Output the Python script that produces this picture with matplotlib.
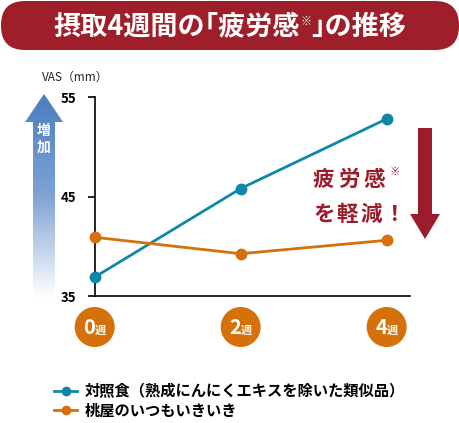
import numpy as np
import matplotlib
matplotlib.use('Agg')
import matplotlib.pyplot as plt
from matplotlib import patches
from matplotlib.colors import LinearSegmentedColormap

plt.rcParams['font.family'] = ['Noto Sans CJK JP', 'DejaVu Sans']

# data (VAS, mm)
weeks = [0, 2, 4]
week_labels = ['0', '2', '4']
control = [36.9, 45.8, 52.8]
momoya = [40.9, 39.25, 40.6]
series_names = ['対照食（熟成にんにくエキスを除いた類似品）', '桃屋のいつもいきいき']
yticks = [35, 45, 55]

BLUE = '#0f87aa'
ORANGE = '#d5700b'
RED = '#9e1f2a'

W, H = 460, 423
fig = plt.figure(figsize=(W / 100, H / 100), dpi=100)

# overlay in pixel coords (y down) for the decorations
ov = fig.add_axes([0, 0, 1, 1])
ov.set_xlim(0, W)
ov.set_ylim(H, 0)
ov.axis('off')

# main chart
ax = fig.add_axes([94.7 / W, (H - 296) / H, (410 - 94.7) / W, (296 - 97) / H])
ax.plot(weeks, control, color=BLUE, lw=2, marker='o', ms=7.5, label=series_names[0], clip_on=False, zorder=3)
ax.plot(weeks, momoya, color=ORANGE, lw=2, marker='o', ms=7.5, label=series_names[1], clip_on=False, zorder=3)
ax.set_xlim(0, 4.32)
ax.set_ylim(35, 55)
ax.set_yticks(yticks)
ax.set_yticklabels([str(v) for v in yticks], fontsize=9.5, fontweight='bold')
ax.set_xticks([])
for s in ['top', 'right']:
    ax.spines[s].set_visible(False)
ax.spines['left'].set_linewidth(1.2)
ax.spines['bottom'].set_linewidth(1.2)
ax.tick_params(axis='y', length=5, width=1.2, pad=8)
ax.patch.set_alpha(0)

renderer = fig.canvas.get_renderer()


def pieces(parts, xc, yb, color, weight='bold', ha='center'):
    # parts: (text, fontsize, raise px, gap after px)
    texts = []
    for txt, size, dy, gap in parts:
        t = ov.text(0, yb - dy, txt, fontsize=size, color=color, fontweight=weight,
                    ha='left', va='baseline')
        w = t.get_window_extent(renderer).width
        texts.append((t, w, gap))
    total = sum(w + gap for _, w, gap in texts)
    x = xc - total / 2 if ha == 'center' else xc
    for t, w, gap in texts:
        t.set_x(x)
        x += w + gap
    return texts


def spaced(s, size, gap):
    return [(ch, size, 0, gap) for ch in s]


# title banner (halfwidth corner brackets keep them tight like the original)
ov.add_patch(patches.FancyBboxPatch((1, 1), W - 2, 49, boxstyle='round,pad=0,rounding_size=24',
                                    fc=RED, ec='none'))
pieces([('摂取4週間の｢疲労感', 19.5, 0, 0), ('※', 8, 10, 0), ('｣の推移', 19.5, 0, 0)],
       230, 35, 'white')

# VAS label
ov.text(42, 77, 'VAS（mm）', fontsize=8.5, color='#222222', va='center', ha='left')

# gradient arrow (増加)
arrow_pts = [(33, 298), (33, 122), (25, 122), (44, 94), (63, 122), (55, 122), (55, 298)]
poly = patches.Polygon(arrow_pts, closed=True, fc='none', ec='none')
ov.add_patch(poly)
cmap = LinearSegmentedColormap.from_list('up', ['#4a7dc0', '#7fa3d5', '#ffffff'])
grad = np.linspace(0, 1, 256).reshape(-1, 1)
im = ov.imshow(grad, cmap=cmap, extent=(25, 63, 298, 94), aspect='auto', zorder=1)
im.set_clip_path(poly)
ov.set_xlim(0, W)
ov.set_ylim(H, 0)
ov.text(44, 131, '増', fontsize=10, color='white', fontweight='bold', ha='center', va='center', zorder=2)
ov.text(44, 148, '加', fontsize=10, color='white', fontweight='bold', ha='center', va='center', zorder=2)

# red arrow + text
ov.add_patch(patches.FancyArrow(425, 128, 0, 111, width=14, head_width=30, head_length=25,
                                length_includes_head=True, fc='#9b1d2b', ec='none'))
pieces(spaced('疲労感', 15.5, 4) + [('※', 7.5, 11, 0)], 313, 186, '#9b1d2b', ha='left')
pieces(spaced('を軽減', 15.5, 2) + [('！', 15.5, 0, 0)], 313, 221, '#9b1d2b', ha='left')

# week badges
for w, lab in zip(weeks, week_labels):
    xd = ax.transData.transform((w, 35))[0]
    ov.add_patch(patches.Circle((xd, 327), 20, fc=ORANGE, ec='none'))
    pieces([(lab, 14.5, 0, 0), ('週', 8, 0, 0)], xd, 334, 'white')

# legend
fig.legend(loc='upper left', bbox_to_anchor=(48 / W, 1 - 377 / H), frameon=False,
           prop={'size': 11, 'weight': 'bold'}, handlelength=1.5, handletextpad=0.5,
           labelspacing=0.2, borderaxespad=0, markerscale=0.8)

fig.savefig('out.png', dpi=100)
